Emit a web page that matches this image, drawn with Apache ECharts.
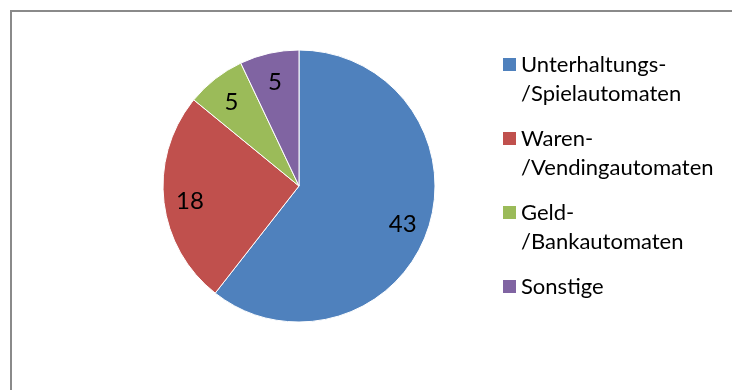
<!DOCTYPE html>
<html>
<head>
<meta charset="utf-8">
<script src="https://cdn.jsdelivr.net/npm/echarts@6/dist/echarts.min.js"></script>
<style>
  html, body { margin: 0; padding: 0; background: #fff; }
  #chart { width: 732px; height: 390px; }
</style>
</head>
<body>
<div id="chart"></div>
<script>
// data
const categories = ['Unterhaltungs-\n/Spielautomaten', 'Waren-\n/Vendingautomaten', 'Geld-\n/Bankautomaten', 'Sonstige']
const values = [43, 18, 5, 5]
const colors = ['#4f81bd', '#c0504d', '#9bbb59', '#8064a2']

const font = 'Lato, "Open Sans", sans-serif'
const cx = 299
const cy = 186
const radius = 136

const chart = echarts.init(document.getElementById('chart'))

chart.setOption({
  animation: false,
  color: colors,
  graphic: [{
    type: 'polyline',
    shape: { points: [[11, 390], [11, 11], [732, 11]] },
    style: { stroke: '#8a8a8a', lineWidth: 2, fill: null }
  }],
  legend: {
    orient: 'vertical',
    left: 503,
    top: 21,
    padding: 0,
    itemWidth: 13,
    itemHeight: 13,
    itemGap: -13,
    icon: 'rect',
    selectedMode: false,
    itemStyle: { borderWidth: 0 },
    textStyle: {
      fontFamily: font,
      fontSize: 22,
      color: '#000',
      lineHeight: 29
    },
    // blank line on top so the icon sits next to the first text line
    formatter: function (name) {
      return name.indexOf('\n') < 0 ? ' \n' + name + '\n ' : ' \n' + name
    }
  },
  series: [{
    type: 'pie',
    center: [cx, cy],
    radius: radius,
    startAngle: 90,
    clockwise: true,
    silent: true,
    itemStyle: {
      borderColor: '#fff',
      borderWidth: 1
    },
    label: {
      position: 'inside',
      formatter: '{c}',
      fontFamily: font,
      fontSize: 24,
      color: '#000'
    },
    labelLine: { show: false },
    // push the inside labels further out, along the slice's mid angle
    labelLayout: function (p) {
      const lx = p.labelRect.x + p.labelRect.width / 2
      const ly = p.labelRect.y + p.labelRect.height / 2
      const k = 105 / 68 - 1
      return { dx: (lx - cx) * k, dy: (ly - cy) * k + 3 }
    },
    data: categories.map(function (c, i) {
      return { name: c, value: values[i] }
    })
  }]
})
</script>
</body>
</html>
